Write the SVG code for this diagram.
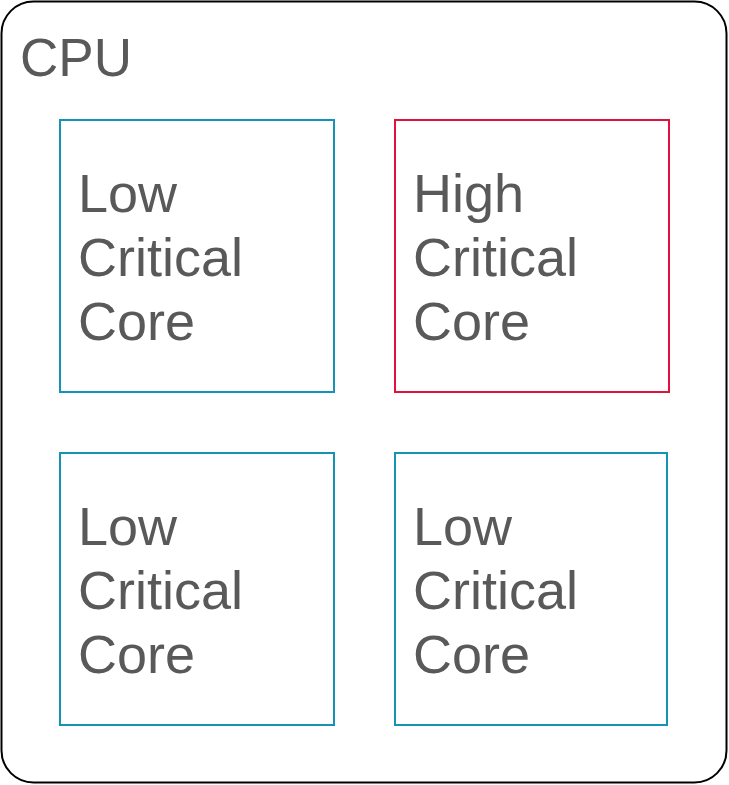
<svg xmlns="http://www.w3.org/2000/svg" width="729" height="785" viewBox="0 0 729 785">
<style>
.t{font-family:"Liberation Sans",Arial,sans-serif;font-size:54px;fill:#595959}
.low{fill:none;stroke:#1592b5;stroke-width:2}
.high{fill:none;stroke:#e0103f;stroke-width:2}
</style>
<rect width="729" height="785" fill="#fff"/>
<g id="cpu">
<rect x="1.5" y="1.5" width="725" height="781" rx="32" fill="none" stroke="#000" stroke-width="2"/>
<text class="t" x="20" y="76" style="font-size:53px">CPU</text>
</g>
<g id="core1">
<rect class="low" x="60" y="120" width="274" height="272"/>
<text class="t"><tspan x="78" y="212">Low</tspan><tspan x="78" y="276">Critical</tspan><tspan x="78" y="340">Core</tspan></text>
</g>
<g id="core2">
<rect class="high" x="395" y="120" width="274" height="272"/>
<text class="t"><tspan x="413" y="212">High</tspan><tspan x="413" y="276">Critical</tspan><tspan x="413" y="340">Core</tspan></text>
</g>
<g id="core3">
<rect class="low" x="60" y="453" width="274" height="272"/>
<text class="t"><tspan x="78" y="545">Low</tspan><tspan x="78" y="609">Critical</tspan><tspan x="78" y="673">Core</tspan></text>
</g>
<g id="core4">
<rect class="low" x="395" y="453" width="272" height="272"/>
<text class="t"><tspan x="413" y="545">Low</tspan><tspan x="413" y="609">Critical</tspan><tspan x="413" y="673">Core</tspan></text>
</g>
<g id="connectors"/>
</svg>
